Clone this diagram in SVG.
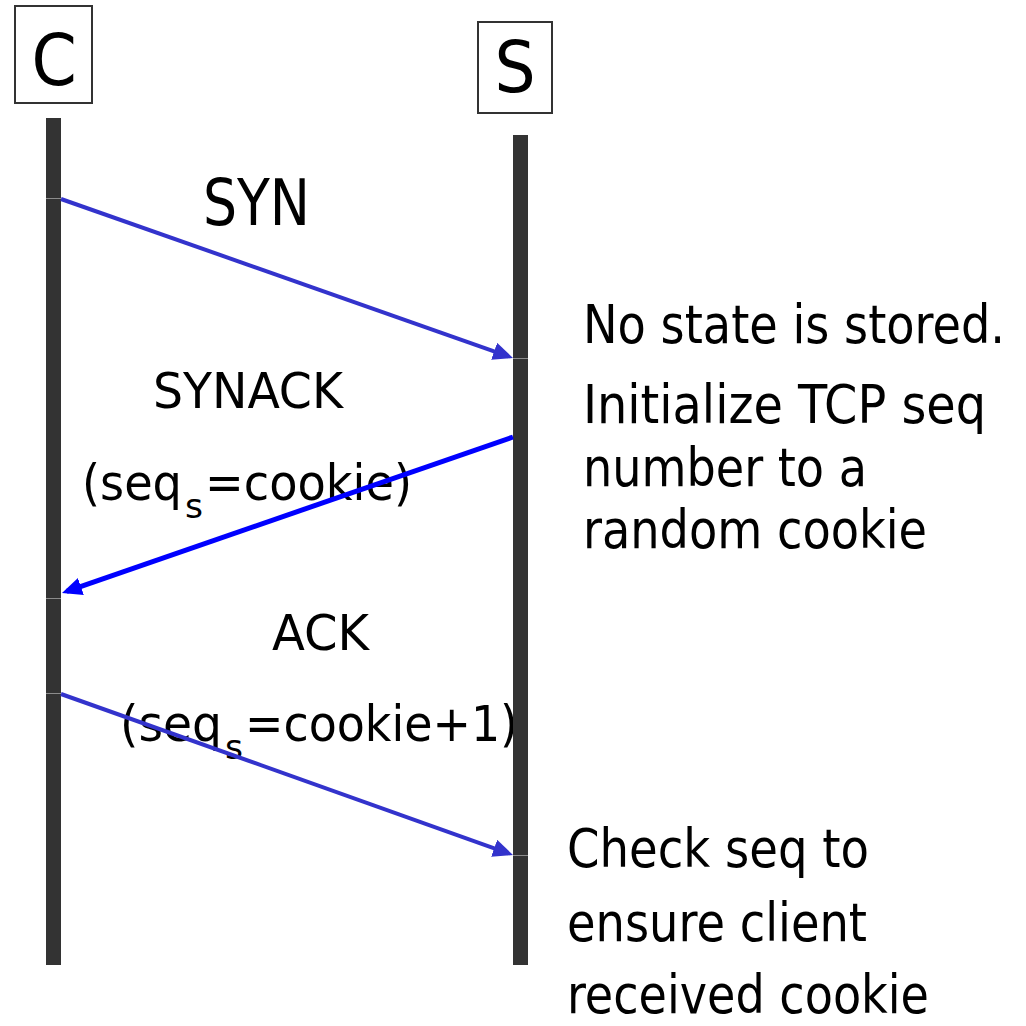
<svg xmlns="http://www.w3.org/2000/svg" width="1026" height="1026" viewBox="0 0 1026 1026">
  <style>
    text { font-family: "DejaVu Sans Condensed", "DejaVu Sans", "Liberation Sans", sans-serif; font-stretch: condensed; fill: #000; }
    .box { fill: #fff; stroke: #333; stroke-width: 2; }
    .life { fill: #333; }
    .seg { stroke: #8c8c8c; stroke-width: 1; }
    .msg { fill: none; stroke: #3333cc; stroke-width: 4; }
    .msg-b { fill: none; stroke: #0000ff; stroke-width: 5; }
    .lbl { font-size: 50px; }
    .sub { font-size: 33px; }
    .note { font-size: 53px; }
  </style>
  <defs>
    <marker id="head" markerUnits="userSpaceOnUse" markerWidth="22" markerHeight="18" refX="15" refY="9" orient="auto">
      <path d="M0,0 L20,9 L0,18 z" fill="#3333cc"/>
    </marker>
    <marker id="head-b" markerUnits="userSpaceOnUse" markerWidth="22" markerHeight="18" refX="15" refY="9" orient="auto">
      <path d="M0,0 L20,9 L0,18 z" fill="#0000ff"/>
    </marker>
  </defs>

  <rect width="1026" height="1026" fill="#fff"/>

  <!-- message labels -->
  <g id="labels">
    <text x="203" y="225" font-size="64" textLength="107" lengthAdjust="spacingAndGlyphs">SYN</text>
    <text class="lbl" x="153" y="408" textLength="190" lengthAdjust="spacingAndGlyphs">SYNACK</text>
    <text class="lbl" x="82" y="500" textLength="100" lengthAdjust="spacingAndGlyphs">(seq</text>
    <text class="sub" x="185" y="518" textLength="18" lengthAdjust="spacingAndGlyphs">s</text>
    <text class="lbl" x="205" y="500" textLength="207" lengthAdjust="spacingAndGlyphs">=cookie)</text>
    <text class="lbl" x="272" y="650" textLength="97" lengthAdjust="spacingAndGlyphs">ACK</text>
    <text class="lbl" x="120" y="741" textLength="102" lengthAdjust="spacingAndGlyphs">(seq</text>
    <text class="sub" x="225" y="759" textLength="18" lengthAdjust="spacingAndGlyphs">s</text>
    <text class="lbl" x="245" y="741" textLength="273" lengthAdjust="spacingAndGlyphs">=cookie+1)</text>
  </g>

  <!-- server-side notes -->
  <g id="notes">
    <text class="note" x="583" y="343" textLength="422" lengthAdjust="spacingAndGlyphs">No state is stored.</text>
    <text class="note" x="583" y="423" textLength="403" lengthAdjust="spacingAndGlyphs">Initialize TCP seq</text>
    <text class="note" x="583" y="486" textLength="284" lengthAdjust="spacingAndGlyphs">number to a</text>
    <text class="note" x="583" y="548" textLength="344" lengthAdjust="spacingAndGlyphs">random cookie</text>
    <text class="note" x="567" y="867" textLength="302" lengthAdjust="spacingAndGlyphs">Check seq to</text>
    <text class="note" x="567" y="941" textLength="300" lengthAdjust="spacingAndGlyphs">ensure client</text>
    <text class="note" x="567" y="1013" textLength="362" lengthAdjust="spacingAndGlyphs">received cookie</text>
  </g>

  <!-- client -->
  <g id="client">
    <rect class="box" x="15" y="6" width="77" height="97"/>
    <text x="54" y="85" font-size="72" text-anchor="middle">C</text>
    <rect class="life" x="46" y="118" width="15" height="847"/>
    <line class="seg" x1="46" y1="198.5" x2="61" y2="198.5"/>
    <line class="seg" x1="46" y1="598.5" x2="61" y2="598.5"/>
    <line class="seg" x1="46" y1="693.5" x2="61" y2="693.5"/>
  </g>

  <!-- server -->
  <g id="server">
    <rect class="box" x="478" y="22" width="74" height="91"/>
    <text x="515" y="92" font-size="72" text-anchor="middle">S</text>
    <rect class="life" x="513" y="135" width="15" height="830"/>
    <line class="seg" x1="513" y1="358.5" x2="528" y2="358.5"/>
    <line class="seg" x1="513" y1="855.5" x2="528" y2="855.5"/>
  </g>

  <!-- handshake messages -->
  <g id="connectors">
    <line class="msg" x1="61" y1="199" x2="508.3" y2="356.3" marker-end="url(#head)"/>
    <line class="msg-b" x1="513" y1="437" x2="66.7" y2="591.4" marker-end="url(#head-b)"/>
    <line class="msg" x1="61" y1="694" x2="508.3" y2="853.3" marker-end="url(#head)"/>
  </g>
</svg>
